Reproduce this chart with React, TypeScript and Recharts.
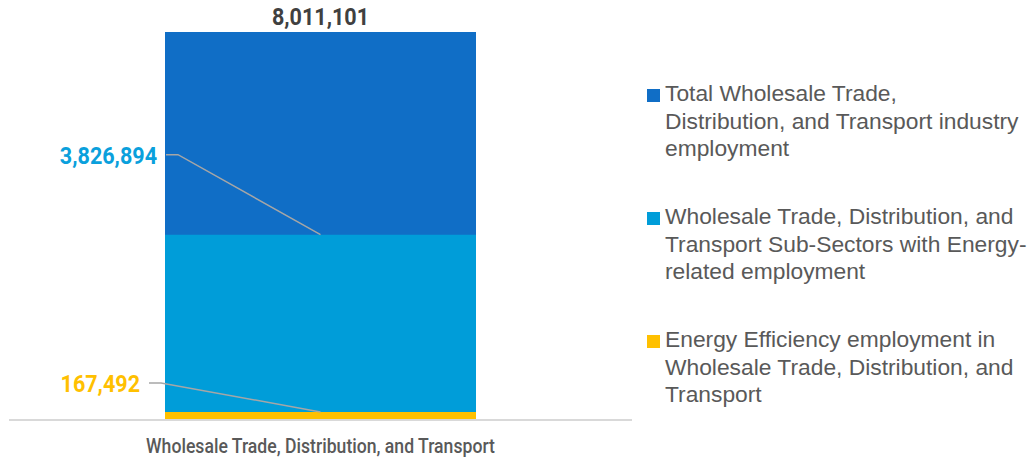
import React from "react";
import { BarChart, Bar, XAxis, YAxis, LabelList } from "recharts";

const categories = ["Wholesale Trade, Distribution, and Transport"];
const totalEmployment = [8011101];
const energyRelated = [3826894];
const energyEfficiency = [167492];

const seriesNames = [
  "Total Wholesale Trade,\nDistribution, and Transport industry\nemployment",
  "Wholesale Trade, Distribution, and\nTransport Sub-Sectors with Energy-\nrelated employment",
  "Energy Efficiency employment in\nWholesale Trade, Distribution, and\nTransport",
];
const seriesColors = ["#106EC6", "#009DD9", "#FFC000"];
const labelColors = ["#404040", "#0AA0DC", "#FFC000"];

const data = categories.map((name, i) => ({
  name,
  total: totalEmployment[i],
  energy: energyRelated[i],
  efficiency: energyEfficiency[i],
}));

const numFont = "Roboto, 'Liberation Sans', sans-serif";
const fmt = (v: number) => v.toLocaleString("en-US");
const NUM_SCALE = 0.88;

const NumText = ({ x, y, anchor, color, children }: any) => (
  <text
    transform={`translate(${x},${y}) scale(${NUM_SCALE},1)`}
    x={0}
    y={0}
    textAnchor={anchor}
    fill={color}
    fontFamily={numFont}
    fontWeight="bold"
    fontSize={24.5}
  >
    {children}
  </text>
);

const TotalLabel = (props: any) => {
  const { x, y, width, value } = props;
  return (
    <NumText x={x + width / 2} y={y - 7} anchor="middle" color={labelColors[0]}>
      {fmt(value)}
    </NumText>
  );
};

const makeCallout = (color: string, startDx: number, lineDy: number, textDx: number) => (props: any) => {
  const { x, y, width, value } = props;
  const ly = y + lineDy;
  const sx = x + startDx;
  return (
    <g>
      <path
        d={`M${sx},${ly} H${sx + 12} L${x + width / 2},${y}`}
        stroke="#A6A6A6"
        strokeWidth={1.5}
        fill="none"
      />
      <NumText x={x + textDx} y={ly + 9} anchor="end" color={color}>
        {fmt(value)}
      </NumText>
    </g>
  );
};

const EnergyLabel = makeCallout(labelColors[1], 1, -80, -8);
const EfficiencyLabel = makeCallout(labelColors[2], -16, -29, -25);

const CategoryTick = (props: any) => {
  const { x, y, payload } = props;
  return (
    <text
      transform={`translate(${x},${y + 13}) scale(0.86,1)`}
      x={0}
      y={0}
      textAnchor="middle"
      fill="#595959"
      fontFamily={numFont}
      fontWeight={500}
      fontSize={20.5}
    >
      {payload.value}
    </text>
  );
};

export default function App() {
  return (
    <div style={{ position: "absolute", left: 0, top: 0, width: 1028, height: 458, background: "#fff" }}>
      <BarChart
        width={1028}
        height={458}
        data={data}
        margin={{ top: 32, right: 396, bottom: 0, left: 9 }}
        barGap={-311}
      >
        <XAxis
          dataKey="name"
          height={38}
          tickLine={false}
          axisLine={{ stroke: "#D9D9D9", strokeWidth: 2 }}
          tickMargin={14}
          tick={CategoryTick}
        />
        <YAxis hide domain={[0, totalEmployment[0]]} />
        <Bar dataKey="total" fill={seriesColors[0]} barSize={311} isAnimationActive={false}>
          <LabelList dataKey="total" content={TotalLabel} />
        </Bar>
        <Bar dataKey="energy" fill={seriesColors[1]} barSize={311} isAnimationActive={false}>
          <LabelList dataKey="energy" content={EnergyLabel} />
        </Bar>
        <Bar dataKey="efficiency" fill={seriesColors[2]} barSize={311} isAnimationActive={false}>
          <LabelList dataKey="efficiency" content={EfficiencyLabel} />
        </Bar>
      </BarChart>
      <div
        style={{
          position: "absolute",
          left: 647,
          top: 80,
          fontFamily: "'Liberation Sans', Arial, sans-serif",
          fontSize: 22.8,
          lineHeight: "27.5px",
          color: "#595959",
        }}
      >
        {seriesNames.map((n, i) => (
          <div key={i} style={{ display: "flex", alignItems: "flex-start", marginBottom: 40.5 }}>
            <div style={{ width: 13, height: 13, marginTop: 9, marginRight: 5, background: seriesColors[i], flex: "none" }} />
            <div style={{ whiteSpace: "pre" }}>{n}</div>
          </div>
        ))}
      </div>
    </div>
  );
}
